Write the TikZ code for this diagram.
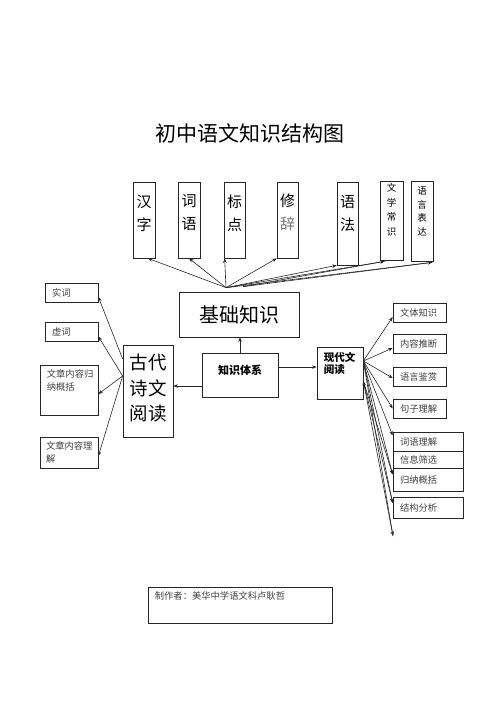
\documentclass[tikz,border=0pt]{standalone}
\usepackage{fontspec}
\usepackage{tikz}
\usetikzlibrary{arrows.meta}
\newfontfamily\cjk{Noto Sans CJK SC}
\tikzstyle{kbox} = [draw=black!85, line width=0.7pt, rectangle, inner sep=0pt]
\tikzstyle{vbox} = [kbox, minimum width=22pt, minimum height=76pt]
\tikzstyle{vlab} = [anchor=north, align=center, inner sep=0pt]
\tikzstyle{big} = [font=\cjk\fontsize{15}{23}\selectfont]
\tikzstyle{tiny} = [font=\cjk\fontsize{9.5}{14.5}\selectfont]
\tikzstyle{small} = [font=\cjk\fontsize{9.3}{13}\selectfont, text=black!75]
\tikzstyle{sbox} = [kbox, small, align=left, inner xsep=7pt, text width=39pt, minimum height=19pt]
\tikzstyle{wbox} = [sbox, text width=56pt]
\tikzstyle{line} = [draw=black!85, line width=0.6pt]
\tikzstyle{arr} = [line, -{Stealth[length=4.5pt,width=3.5pt]}]
\tikzstyle{arr2} = [line, {Stealth[length=4.5pt,width=3.5pt]}-{Stealth[length=4.5pt,width=3.5pt]}]

\begin{document}
\begin{tikzpicture}[x=1pt,y=-1pt]
\useasboundingbox (0,0) rectangle (500,708);
\node[font=\cjk\fontsize{21}{21}\selectfont] (title) at (250,133) {初中语文知识结构图};

% top row
\node[vbox] (hanzi) at (144,220) {};
\node[vlab, big, below=13pt] (hanzit) at (hanzi.north) {汉\\字};
\node[vbox] (ciyu) at (189,220) {};
\node[vlab, big, below=13pt] (ciyut) at (ciyu.north) {词\\语};
\node[vbox, minimum width=21pt] (biaodian) at (234.5,220) {};
\node[vlab, big, below=13pt] (biaodiant) at (biaodian.north) {标\\点};
\node[vbox, minimum width=21pt] (xiuci) at (287.5,220) {};
\node[vlab, big, below=12pt] (xiucit) at (xiuci.north) {修\\\textcolor{black!55}{辞}};
\node[vbox, minimum width=21pt, minimum height=83pt] (yufa) at (347.5,223.5) {};
\node[vlab, big, below=13pt] (yufat) at (yufa.north) {语\\法};
\node[vbox, minimum width=23pt, minimum height=79pt] (wenxue) at (391.5,220.5) {};
\node[vlab, tiny, below=3pt] (wenxuet) at (wenxue.north) {文\\学\\常\\识};
\node[vbox, minimum height=80pt] (yuyan) at (422,221) {};
\node[vlab, tiny, below=6pt, font=\cjk\fontsize{9.5}{13.5}\selectfont] (yuyant) at (yuyan.north) {语\\言\\表\\达};

% middle
\node[kbox, minimum width=120pt, minimum height=45pt, font=\cjk\fontsize{20}{20}\selectfont] (jichu) at (239,314.5) {基础知识};
\node[kbox, minimum width=76pt, minimum height=44pt] (zhishi) at (240,375) {};
\node[font=\cjk\bfseries\fontsize{11}{13}\selectfont, inner sep=0pt] (zhishit) at (240,370) {知识体系};
\node[kbox, minimum width=46pt, minimum height=52pt] (xiandai) at (340,373) {};
\node[anchor=north west, align=left, inner sep=0pt, xshift=7pt, yshift=-6pt,
  font=\cjk\bfseries\fontsize{10.5}{12}\selectfont] (xiandait) at (xiandai.north west) {现代文\\阅读};
\node[kbox, minimum width=50pt, minimum height=92pt] (gudai) at (148,391) {};
\node[align=center, inner sep=0pt, font=\cjk\fontsize{18.5}{25.5}\selectfont] (gudait) at (148,388.5) {古代\\诗文\\阅读};

% left column
\node[sbox] (shici) at (71.5,292.5) {实词};
\node[sbox] (xuci) at (71.5,331.5) {虚词};
\node[kbox, minimum width=58pt, minimum height=50pt] (guina) at (69,390) {};
\node[small, anchor=north west, align=left, inner sep=0pt, xshift=7pt, yshift=-5pt] (guinat) at (guina.north west) {文章内容归\\纳概括};
\node[sbox, inner xsep=6pt, text width=46pt, minimum height=31pt] (lijie) at (69,452.5) {文章内容理\\解};

% right column
\node[sbox] (wenti) at (419.5,313) {文体知识};
\node[sbox] (neirong) at (419.5,343.5) {内容推断};
\node[sbox] (jianshang) at (419.5,377) {语言鉴赏};
\node[sbox] (juzi) at (419.5,408.5) {句子理解};
\node[wbox] (ciyu2) at (428,441.5) {词语理解};
\node[wbox, minimum height=17pt] (xinxi) at (428,459.5) {信息筛选};
\node[wbox, minimum height=23pt] (guina2) at (428,479.5) {归纳概括};
\node[wbox, minimum height=21pt] (jiegou) at (428,508) {结构分析};

% footer
\node[kbox, minimum width=184pt, minimum height=36pt] (footer) at (240,605) {};
\node[small, anchor=north west, inner sep=0pt, xshift=7pt, yshift=-5pt] (footert) at (footer.north west) {制作者：美华中学语文科卢耿哲};

% connectors
\coordinate (jc) at ([xshift=-13pt,yshift=4pt]jichu.north);
\coordinate (jd) at ([xshift=4pt,yshift=5pt]jichu.north);
\draw[arr] (jc) -- ([xshift=4pt]hanzi.south);
\draw[arr] (jc) -- (ciyu.south);
\draw[arr] (jc) -- ([xshift=1pt]biaodian.south west);
\draw[arr] (jc) -- (xiuci.south west);
\draw[arr] (jc) -- (yufa.south west);
\draw[arr] (jc) -- ([xshift=5pt,yshift=-1pt]wenxue.south west);
\draw[arr] (jc) -- ([xshift=-1pt,yshift=-1pt]yuyan.south east);
\draw[line] (jd) -- ([xshift=5pt,yshift=-1pt]wenxue.south west);
\draw[line] (jd) -- ([xshift=-1pt,yshift=-1pt]yuyan.south east);

\draw[arr] (zhishi.north) -- (zhishi.north |- jichu.south);
\draw[arr] ([yshift=8pt]zhishi.east) -- ([yshift=8pt]zhishi.east -| xiandai.west);
\draw[arr] ([yshift=-11pt]zhishi.west) -- ([yshift=-11pt]zhishi.west -| gudai.east);

\coordinate (ga) at ([yshift=32pt]gudai.west);
\coordinate (gb) at ([yshift=15pt]gudai.west);
\draw[arr] (ga) -- ([yshift=-4.5pt]shici.east);
\draw[arr] (gb) -- ([yshift=-5pt]xuci.east);
\draw[arr] (gb) -- ([yshift=-4pt]guina.east);
\draw[arr] (gb) -- ([yshift=-3.5pt]lijie.east);

\coordinate (xa) at ([yshift=12pt]xiandai.east);
\coordinate (xb) at ([yshift=-8pt]xiandai.east);
\coordinate (xend) at (393,536);
\draw[arr] (xa) -- ([yshift=-4pt]wenti.west);
\draw[arr] (xa) -- ([yshift=-4.5pt]neirong.west);
\draw[arr] (xa) -- ([yshift=-1pt]jianshang.west);
\draw[arr] (xa) -- (juzi.west);
\draw[arr] (xa) -- ([yshift=6pt]ciyu2.west);
\draw[arr] (xa) -- ([yshift=5pt]guina2.west);
\draw[arr] (xa) -- ([yshift=5pt]jiegou.west);
\draw[arr] (xb) -- ([yshift=5pt]guina2.west);
\draw[arr] (xb) -- ([yshift=5pt]jiegou.west);
\draw[arr2] (xb) -- (xend);
\draw[line] (xa) -- (xend);
\end{tikzpicture}
\end{document}
